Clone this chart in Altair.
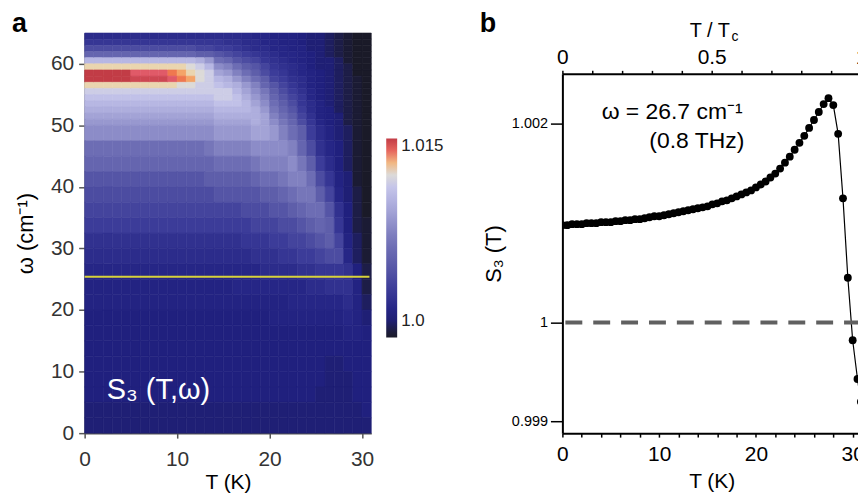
import altair as alt
import pandas as pd

FONT = "Liberation Sans"

# ---------------- panel a : S3(T, omega) colour map ----------------
T_edges = [0, 1, 2, 3, 4, 5, 6, 7, 8, 9, 10, 11, 12, 13, 14, 15, 16,
           17, 18, 19, 20, 21, 22, 23, 24, 25, 26, 27, 28, 29, 30, 31]
# row edges, top to bottom (cm^-1)
omega_edges = [65, 64, 63, 62, 61, 60, 59, 58, 57, 56, 55, 54, 53, 52, 51, 50,
               47.5, 45, 42.5, 40, 37.5, 35, 32.5, 30, 27.5, 25, 22.5, 20,
               17.5, 15, 12.5, 10, 7.5, 5, 2.5, 0]
# value of each level symbol used in the map columns
S3_levels = {
    "0": 0.9986, "1": 0.9989, "2": 0.9993, "3": 0.9997, "4": 1.0001, "5": 1.0004,
    "6": 1.0007, "7": 1.0010, "8": 1.0014, "9": 1.0018, "a": 1.0022, "b": 1.0026,
    "c": 1.0031, "d": 1.0036, "e": 1.0042, "f": 1.0048, "g": 1.0054, "h": 1.0060,
    "i": 1.0066, "j": 1.0072, "k": 1.0078, "l": 1.0084, "m": 1.0090, "n": 1.0096,
    "o": 1.0102, "p": 1.0108, "q": 1.0114, "r": 1.0120, "s": 1.0126, "t": 1.0132,
    "u": 1.0137, "v": 1.0142, "w": 1.0147, "x": 1.0150,
}
# one string per 1-K column of T, read top (65 cm^-1) to bottom (0)
S3_columns = [
    "8adgosxxs" "qponmlkhgedcb98" "76655555544",
    "8adgosxxs" "qponmlkhgedcb98" "76655555544",
    "8adgosxxs" "qponmlkhgedcb98" "76655555544",
    "8adgosxxs" "qponmlkhgedcb98" "76655555544",
    "8adgosxxs" "qponmlkhgedcb98" "76655555544",
    "8adgosvws" "qponmlkhgedcb98" "76655555544",
    "8adgosvws" "qponmlkhgedcb98" "76655555544",
    "8adgosvws" "qponmlkhgedcb98" "76655555544",
    "8adgosvws" "qponmlkhgedcb98" "76655555544",
    "8adgosuvs" "qponmlkhgedcb98" "76655555544",
    "8adgostur" "qponmlkhgedcb98" "76655555544",
    "8adgorstr" "qponmlkhgedcb98" "76655555544",
    "8acfnqrrq" "qponmlkhgedcb98" "76655555544",
    "8acfloqqq" "qponmlkigfdcb98" "76655555544",
    "8abehkmop" "qqponmljhfecb98" "76655555544",
    "89bdgjlno" "qqponmljhfecb98" "76655555544",
    "89acehjln" "opponmljhfecb98" "77655555544",
    "889bdfhjl" "mnoonmljhfedba8" "77655555544",
    "788acefhj" "klmnnnmkigedca9" "77655555544",
    "7789acdfg" "ijklmmmkjhfdca9" "87655555544",
    "67789abce" "fghijklkjhfecb9" "87665555544",
    "667789abc" "defghijkjigedba" "87665555544",
    "66677889a" "bcdefghjkjhfdca" "87765555544",
    "556667788" "9aabcdfgijigecb" "97765555544",
    "444555666" "77889abdfhihfdb" "98765555544",
    "444444555" "55666789bdfhgec" "a8765555444",
    "333344444" "444555678aceffd" "a9765544444",
    "222233333" "333344455679acd" "a9765544444",
    "111112222" "222222333445567" "99876554444",
    "000000011" "111111111122233" "56666555544",
    "000000000" "000000000000111" "22345555554",
]
assert len(S3_columns) == len(T_edges) - 1
assert all(len(c) == len(omega_edges) - 1 for c in S3_columns)

# colour bar of the map
cmap_values = [0.9986, 0.9991, 0.9996, 1.0000, 1.0004, 1.0010, 1.0017, 1.0025,
               1.0035, 1.0045, 1.0055, 1.0065, 1.0075, 1.0085, 1.0095, 1.0105,
               1.0112, 1.0120, 1.0127, 1.0132, 1.0136, 1.0142, 1.0150]
cmap_colors = ["#1a1a28", "#1c1c3c", "#1e1e58", "#1f1f72", "#20207e", "#262686",
               "#30308e", "#3a3a98", "#4a4aa0", "#5a5aa8", "#6666b0", "#7474b8",
               "#8686c4", "#9a9ad0", "#acacdc", "#bcbce6", "#c8c8ea", "#dcdad8",
               "#ecd4a8", "#f4a468", "#f27e4a", "#e05a68", "#c23c46"]
colorbar_ticks = [1.0, 1.015]

cut_omega = 25.4      # yellow line (frequency of panel b)
cut_T_end = 30.8

# ---------------- panel b : S3(T) at omega = 26.7 cm^-1 ----------------
Tc = 30.86
T_K = [0.0, 0.5, 1.0, 1.5, 2.0, 2.5, 3.0, 3.5, 4.0, 4.5, 5.0, 5.5, 6.0, 6.5,
       7.0, 7.5, 8.0, 8.5, 9.0, 9.5, 10.0, 10.5, 11.0, 11.5, 12.0, 12.5, 13.0,
       13.5, 14.0, 14.5, 15.0, 15.5, 16.0, 16.5, 17.0, 17.5, 18.0, 18.5, 19.0,
       19.5, 20.0, 20.5, 21.0, 21.5, 22.0, 22.5, 23.0, 23.5, 24.0, 24.5, 25.0,
       25.5, 26.0, 26.5, 27.0, 27.5, 28.0, 28.5, 29.0, 29.5, 30.0, 30.5, 30.85]
S3_b = [1.00098, 1.00098, 1.00099, 1.00099, 1.00099, 1.00100, 1.00100, 1.00100,
        1.00101, 1.00101, 1.00101, 1.00102, 1.00102, 1.00103, 1.00103, 1.00104,
        1.00104, 1.00105, 1.00106, 1.00107, 1.00107, 1.00108, 1.00109, 1.00110,
        1.00111, 1.00112, 1.00113, 1.00114, 1.00115, 1.00116, 1.00117, 1.00119,
        1.00120, 1.00122, 1.00123, 1.00125, 1.00127, 1.00129, 1.00131, 1.00133,
        1.00136, 1.00139, 1.00142, 1.00146, 1.00150, 1.00155, 1.00161, 1.00167,
        1.00174, 1.00181, 1.00188, 1.00196, 1.00204, 1.00212, 1.00220, 1.00226,
        1.00219, 1.00190, 1.00125, 1.00045, 0.99982, 0.99943, 0.99920]
assert len(T_K) == len(S3_b)
top_ticks = [0, 0.1, 0.2, 0.3, 0.4, 0.5, 0.6, 0.7, 0.8, 0.9, 1.0]

# ======================= build panel a =======================
cells = []
for c, col in enumerate(S3_columns):
    for r, ch in enumerate(col):
        v = S3_levels[ch]
        cells.append({"T0": T_edges[c], "T1": T_edges[c + 1],
                      "w_hi": omega_edges[r], "w_lo": omega_edges[r + 1],
                      "S3": v, "S3_edge": v})
df_map = pd.DataFrame(cells)

cscale = alt.Scale(type="linear", domain=cmap_values, range=cmap_colors,
                   interpolate="rgb", clamp=True)
# same colours for the hairline cell edges (hides seams); the extra end stop
# keeps this scale's legend from being merged with the colour bar
edge_scale = alt.Scale(type="linear", domain=cmap_values + [1.0160],
                       range=cmap_colors + [cmap_colors[-1]],
                       interpolate="rgb", clamp=True)

PLOT_H = 402

x_a = alt.X("T0:Q", scale=alt.Scale(domain=[0, 31], nice=False, zero=False),
            axis=alt.Axis(title="T (K)", values=[0, 10, 20, 30], tickSize=5,
                          labelPadding=11, labelFontSize=21, labelColor="#333333",
                          titleFontSize=21, titlePadding=1.5, titleColor="black",
                          titleFontWeight="normal",
                          domainColor="#555555", domainWidth=1.5,
                          tickColor="#555555", tickWidth=1.5, labelFlush=False))
y_a = alt.Y("w_lo:Q", scale=alt.Scale(domain=[0, 65], nice=False, zero=False),
            axis=alt.Axis(title="ω (cm⁻¹)", values=[0, 10, 20, 30, 40, 50, 60],
                          tickSize=6, labelPadding=5, labelFontSize=21,
                          labelColor="#333333", titleFontSize=22, titlePadding=13,
                          titleColor="black", titleFontWeight="normal",
                          domainColor="#555555", domainWidth=1.5,
                          tickColor="#555555", tickWidth=1.5, labelFlush=False))

heat = alt.Chart(df_map).mark_rect(strokeWidth=0.6).encode(
    x=x_a, x2="T1:Q", y=y_a, y2="w_hi:Q",
    color=alt.Color("S3:Q", scale=cscale, legend=alt.Legend(
        type="gradient", orient="none", legendX=303, legendY=106,
        direction="vertical", gradientLength=200, gradientThickness=11,
        values=colorbar_ticks,
        labelExpr="datum.value < 1.005 ? '1.0' : '1.015'", labelFontSize=17,
        labelColor="#222222", labelOffset=4, title=None, padding=0,
        gradientStrokeWidth=0)),
    stroke=alt.Stroke("S3_edge:Q", scale=edge_scale, legend=None),
)

df_cut = pd.DataFrame({"T0": [0.0], "T1": [cut_T_end], "w_lo": [cut_omega]})
cut = alt.Chart(df_cut).mark_rule(color="#d8d23a", strokeWidth=2).encode(
    x=x_a, x2="T1:Q", y=y_a)

df_lab = pd.DataFrame({"T0": [2.4], "w_lo": [5.5], "txt": ["S₃ (T,ω)"]})
lab = alt.Chart(df_lab).mark_text(color="white", fontSize=29, align="left",
                                  baseline="alphabetic").encode(
    x=x_a, y=y_a, text="txt:N")

df_one = pd.DataFrame({"k": [0]})
letter_a = alt.Chart(df_one).mark_text(text="a", fontSize=27, fontWeight="bold",
                                       align="left", baseline="alphabetic",
                                       color="black").encode(
    x=alt.value(-73), y=alt.value(-1.5))

left = alt.layer(heat, cut, lab, letter_a).properties(width=288, height=PLOT_H)

# ======================= build panel b =======================
# panel b's frame starts 41 px below panel a's top: its y range ends at 41
df_b = pd.DataFrame({"T": T_K, "S3": S3_b})
x_b = alt.X("T:Q", scale=alt.Scale(domain=[0, Tc], nice=False, zero=False),
            axis=alt.Axis(title="T (K)", values=list(range(0, 31, 2)),
                          labelExpr="datum.value % 10 == 0 ? datum.label : ''",
                          tickSize=4, labelPadding=6, labelFontSize=21,
                          labelColor="black", titleFontSize=21, titlePadding=7,
                          titleColor="black", titleFontWeight="normal",
                          domainColor="black", domainWidth=2, tickColor="black",
                          tickWidth=1.5, labelFlush=False))
y_b = alt.Y("S3:Q", scale=alt.Scale(domain=[0.998884, 1.002505], range=[PLOT_H, 41],
                                    nice=False, zero=False),
            axis=alt.Axis(title="S₃ (T)", values=[0.999, 1.0, 1.002],
                          labelExpr="datum.value == 1 ? '1' : format(datum.value, '.3f')",
                          tickSize=12, labelPadding=3, labelFontSize=14.5,
                          labelColor="black", titleFontSize=22, titlePadding=6,
                          titleColor="black", titleFontWeight="normal",
                          domainColor="black", domainWidth=2, tickColor="black",
                          tickWidth=1.5, labelFlush=False))

line_b = alt.Chart(df_b).mark_line(color="black", strokeWidth=1.2, clip=True).encode(x=x_b, y=y_b)
pts_b = alt.Chart(df_b).mark_circle(size=62, color="black", opacity=1, clip=True).encode(x=x_b, y=y_b)
df_ref = pd.DataFrame({"S3": [1.0]})
dash_b = alt.Chart(df_ref).mark_rule(color="#606060", strokeWidth=4,
                                     strokeDash=[17, 11]).encode(y=y_b)
df_note = pd.DataFrame({"T": [18.62, 18.8], "S3": [1.002054, 1.001753],
                        "txt": ["ω = 26.7 cm⁻¹", "(0.8 THz)"]})
note_b = alt.Chart(df_note).mark_text(fontSize=23, align="right", baseline="alphabetic",
                                      color="black").encode(x=x_b, y=y_b, text="txt:N")
ttl_T = alt.Chart(df_one).mark_text(text="T / T", fontSize=20, align="left",
                                    baseline="alphabetic", color="black").encode(
    x=alt.value(128), y=alt.value(4))
ttl_c = alt.Chart(df_one).mark_text(text="c", fontSize=14, align="left",
                                    baseline="alphabetic", color="black").encode(
    x=alt.value(170), y=alt.value(8))
letter_b = alt.Chart(df_one).mark_text(text="b", fontSize=27, fontWeight="bold",
                                       align="left", baseline="alphabetic",
                                       color="black").encode(
    x=alt.value(-83), y=alt.value(-1.5))

df_top = pd.DataFrame({"r": [0.0, 1.0]})
top_b = alt.Chart(df_top).mark_point(opacity=0, size=1).encode(
    x=alt.X("r:Q", scale=alt.Scale(domain=[0, 1], nice=False, zero=False),
            axis=alt.Axis(orient="top", offset=-41, values=top_ticks, title=None,
                          labelExpr="datum.value == 0 ? '0' : (datum.value == 0.5 ? '0.5' : (datum.value == 1 ? '1' : ''))",
                          tickSize=3.5, labelPadding=2.5, labelFontSize=21,
                          labelColor="black", domainColor="black", domainWidth=2,
                          tickColor="black", tickWidth=1.5, labelFlush=False)))

inner_b = alt.layer(line_b, dash_b, pts_b, note_b, ttl_T, ttl_c, letter_b)
right = alt.layer(inner_b, top_b).resolve_scale(x="independent").properties(width=300, height=PLOT_H)

# the figure is cut at the right edge of the page, as in the original
chart = (
    alt.hconcat(left, right, spacing=36)
    .resolve_scale(color="independent", stroke="independent")
    .properties(padding={"left": 4, "top": 0, "right": -9, "bottom": 0})
    .configure(font=FONT)
    .configure_view(stroke=None)
    .configure_axis(grid=False)
)

chart.save("out.html", embed_options={"renderer": "svg", "actions": False})
